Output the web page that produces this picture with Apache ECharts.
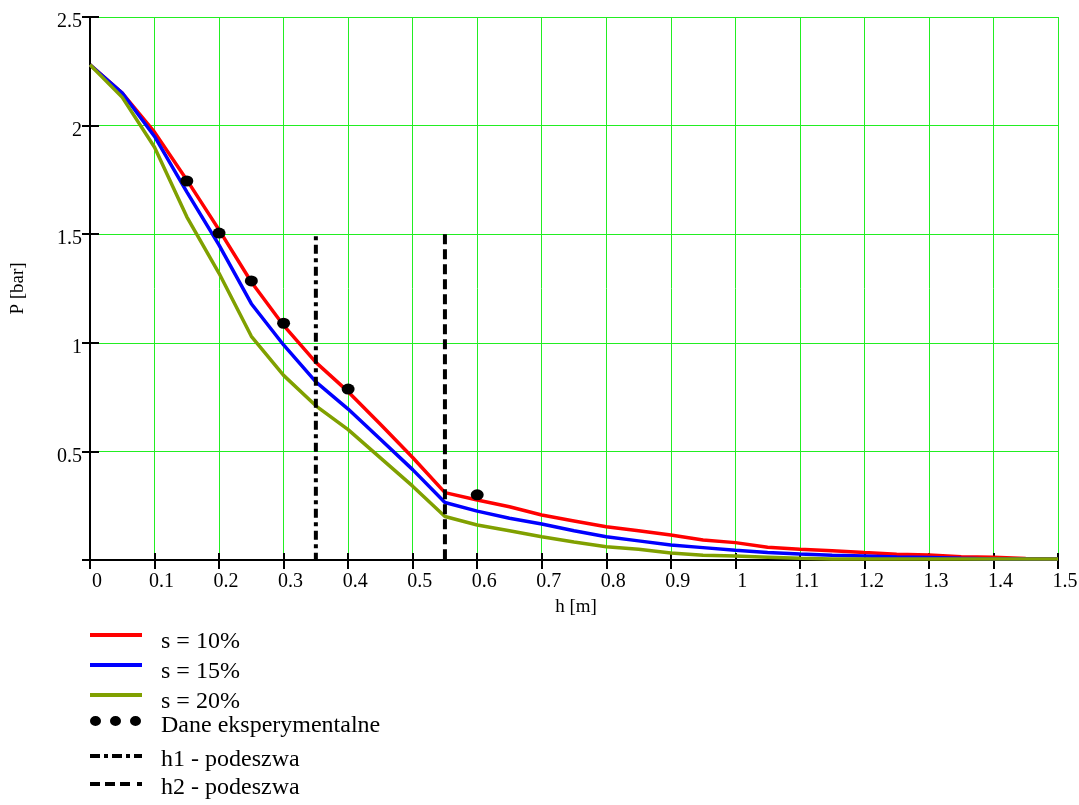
<!DOCTYPE html>
<html><head><meta charset="utf-8">
<script src="https://cdn.jsdelivr.net/npm/echarts@6/dist/echarts.min.js"></script>
<style>html,body{margin:0;padding:0;background:#fff}#c{width:1079px;height:805px}</style>
</head><body><div id="c"></div>
<script>
// ---- data ----
const hValues = [0,0.05,0.1,0.15,0.2,0.25,0.3,0.35,0.4,0.45,0.5,0.55,0.6,0.65,0.7,0.75,0.8,0.85,0.9,0.95,1.0,1.05,1.1,1.15,1.2,1.25,1.3,1.35,1.4,1.45,1.5];
const p10 = [2.28,2.15,1.97,1.75,1.52,1.28,1.08,0.91,0.775,0.625,0.472,0.31,0.276,0.245,0.207,0.18,0.153,0.135,0.115,0.092,0.08,0.059,0.05,0.043,0.034,0.026,0.023,0.015,0.013,0.007,0.005];
const p15 = [2.28,2.15,1.95,1.695,1.45,1.18,0.99,0.82,0.695,0.556,0.416,0.265,0.225,0.192,0.166,0.135,0.107,0.088,0.069,0.057,0.045,0.035,0.028,0.022,0.018,0.014,0.012,0.008,0.005,0.005,0.005];
const p20 = [2.28,2.13,1.90,1.58,1.32,1.03,0.85,0.71,0.60,0.47,0.34,0.20,0.161,0.135,0.107,0.083,0.061,0.05,0.032,0.022,0.018,0.013,0.008,0.005,0.005,0.005,0.005,0.005,0.005,0.005,0.005];
const expH = [0.15,0.2,0.25,0.3,0.4,0.6];
const expP = [1.745,1.505,1.285,1.09,0.787,0.30];
const h1Line = [[0.35,1.49],[0.35,0]];
const h2Line = [[0.55,1.5],[0.55,0]];
const seriesNames = ['s = 10%','s = 15%','s = 20%','Dane eksperymentalne','h1 - podeszwa','h2 - podeszwa'];

const FONT = "'Liberation Serif','Times New Roman',serif";
const zip = (xs, ys) => xs.map((x, i) => [x, ys[i]]);

// legend icons drawn in a 52x40 box (corner anchors keep the box), marks sit above the text middle
const anchor = 'M0,0Z M52,40Z ';
const icons = [
  'path://' + anchor + 'M0,11H52V15H0Z',
  'path://' + anchor + 'M0,11H52V15H0Z',
  'path://' + anchor + 'M0,11H52V15H0Z',
  'path://' + anchor + 'M0,15A5.5,5,0,1,0,11,15A5.5,5,0,1,0,0,15ZM20,15A5.5,5,0,1,0,31,15A5.5,5,0,1,0,20,15ZM40,15A5.5,5,0,1,0,51,15A5.5,5,0,1,0,40,15Z',
  'path://' + anchor + 'M0,14H10V18H0ZM14,14H18V18H14ZM22,14H32V18H22ZM36,14H40V18H36ZM44,14H52V18H44Z',
  'path://' + anchor + 'M0,14H10V18H0ZM15,14H25V18H15ZM30,14H40V18H30ZM47,14H52V18H47Z'
];
const legendTextCenters = [642,672,702,726,760,788];

const legends = seriesNames.map((n, i) => ({
  left: 90, top: legendTextCenters[i] - 20, padding: 0,
  itemWidth: 52, itemHeight: 40, selectedMode: false, symbolKeepAspect: false,
  itemStyle: {borderWidth: 0, opacity: 1},
  data: [{name: n, icon: icons[i]}],
  textStyle: {fontFamily: FONT, fontSize: 24, color: '#000', lineHeight: 26, padding: [0,0,0,14]}
}));

const gridGreen = '#22ee22';
const chart = echarts.init(document.getElementById('c'), null, {renderer: 'canvas'});
chart.setOption({
  animation: false,
  backgroundColor: '#fff',
  legend: legends,
  grid: {left: 90, top: 17, right: 21, bottom: 245, outerBoundsMode: 'none', containLabel: false},
  xAxis: [{
    type: 'value', min: 0, max: 1.5, interval: 0.1,
    name: 'h [m]', nameLocation: 'middle', nameGap: 38,
    nameTextStyle: {fontFamily: FONT, fontSize: 19, color: '#000', padding: [0,0,0,4]},
    axisLine: {show: true, onZero: false, lineStyle: {color: '#000', width: 2}},
    axisTick: {show: true, inside: false, length: 9, lineStyle: {color: '#000', width: 2}},
    axisLabel: {fontFamily: FONT, fontSize: 20, color: '#000', margin: 12, padding: [0,0,0,14]},
    splitLine: {show: true, lineStyle: {color: gridGreen, width: 1}}
  }, {
    type: 'value', min: 0, max: 1.5, interval: 0.1, position: 'bottom',
    axisLine: {show: false}, axisLabel: {show: false}, splitLine: {show: false},
    axisTick: {show: true, inside: true, length: 7, lineStyle: {color: '#000', width: 2}}
  }],
  yAxis: [{
    type: 'value', min: 0, max: 2.5, interval: 0.5,
    name: 'P [bar]', nameLocation: 'middle', nameGap: 62, nameRotate: 90,
    nameTextStyle: {fontFamily: FONT, fontSize: 19, color: '#000'},
    axisLine: {show: true, onZero: false, lineStyle: {color: '#000', width: 2}},
    axisTick: {show: true, inside: false, length: 8, lineStyle: {color: '#000', width: 2}},
    axisLabel: {fontFamily: FONT, fontSize: 20, color: '#000', margin: 8, verticalAlign: 'top', lineHeight: 10,
      formatter: v => v === 0 ? '' : String(v)},
    splitLine: {show: true, lineStyle: {color: gridGreen, width: 1}}
  }, {
    type: 'value', min: 0, max: 2.5, interval: 0.5, position: 'left',
    axisLine: {show: false}, axisLabel: {show: false}, splitLine: {show: false},
    axisTick: {show: true, inside: true, length: 9, lineStyle: {color: '#000', width: 2}}
  }],
  series: [
    {name: seriesNames[0], type: 'line', data: zip(hValues, p10), symbol: 'none', color: '#ff0000', lineStyle: {width: 3.5, color: '#ff0000'}},
    {name: seriesNames[1], type: 'line', data: zip(hValues, p15), symbol: 'none', color: '#0000ff', lineStyle: {width: 3.5, color: '#0000ff'}},
    {name: seriesNames[2], type: 'line', data: zip(hValues, p20), symbol: 'none', color: '#80a000', lineStyle: {width: 3.5, color: '#80a000'}},
    {name: seriesNames[3], type: 'scatter', data: zip(expH, expP), symbol: 'circle', symbolSize: [13, 11], color: '#000', itemStyle: {color: '#000', opacity: 1}, z: 3},
    {name: seriesNames[4], type: 'line', data: h1Line, symbol: 'none', color: '#000', lineStyle: {width: 4, color: '#000', type: [4,4.5,9,4.5]}},
    {name: seriesNames[5], type: 'line', data: h2Line, symbol: 'none', color: '#000', lineStyle: {width: 4, color: '#000', type: [10,5]}}
  ]
});
</script>
</body></html>
